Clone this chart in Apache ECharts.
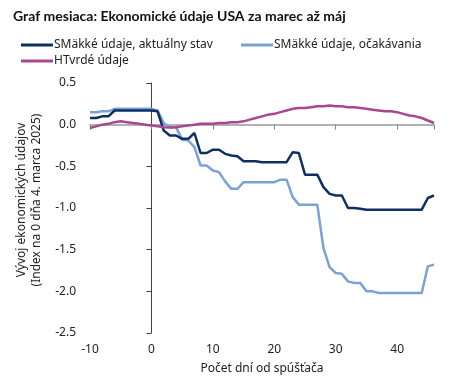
<!DOCTYPE html>
<html><head><meta charset="utf-8">
<script src="https://cdn.jsdelivr.net/npm/echarts@6/dist/echarts.min.js"></script>
<style>html,body{margin:0;padding:0;background:#fff}#c{width:463px;height:387px}</style>
</head><body><div id="c"></div>
<script>
const days = [];
for (let d = -10; d <= 46; d++) days.push(d);

const softActual = [0.08,0.08,0.10,0.10,0.17,0.17,0.17,0.17,0.17,0.17,0.17,
  0.16,-0.07,-0.13,-0.13,-0.17,-0.17,-0.10,-0.34,-0.34,-0.30,
  -0.30,-0.35,-0.37,-0.38,-0.44,-0.44,-0.44,-0.45,-0.45,-0.45,
  -0.45,-0.45,-0.33,-0.34,-0.60,-0.60,-0.60,-0.75,-0.83,-0.85,
  -0.85,-1.00,-1.00,-1.01,-1.02,-1.02,-1.02,-1.02,-1.02,-1.02,
  -1.02,-1.02,-1.02,-1.02,-0.88,-0.85];
const softExpect = [0.15,0.15,0.16,0.16,0.19,0.19,0.19,0.19,0.19,0.19,0.19,
  0.17,0.02,-0.03,-0.03,-0.18,-0.19,-0.27,-0.49,-0.49,-0.55,
  -0.57,-0.68,-0.77,-0.77,-0.69,-0.69,-0.69,-0.69,-0.69,-0.69,
  -0.66,-0.66,-0.87,-0.96,-0.96,-0.96,-0.96,-1.48,-1.71,-1.78,
  -1.79,-1.88,-1.90,-1.90,-2.00,-2.00,-2.02,-2.02,-2.02,-2.02,
  -2.02,-2.02,-2.02,-2.02,-1.70,-1.68];
const hard = [-0.04,-0.02,0.00,0.01,0.03,0.04,0.03,0.02,0.01,0.00,-0.01,
  -0.02,-0.03,-0.035,-0.03,-0.02,-0.01,0.00,0.01,0.01,0.01,
  0.02,0.02,0.03,0.03,0.04,0.06,0.08,0.10,0.12,0.13,
  0.15,0.17,0.19,0.20,0.20,0.21,0.22,0.22,0.23,0.22,
  0.22,0.21,0.21,0.20,0.19,0.18,0.17,0.16,0.16,0.15,
  0.13,0.11,0.10,0.08,0.05,0.02];

const seriesNames = ['SMäkké údaje, aktuálny stav','SMäkké údaje, očakávania','HTvrdé údaje'];
const colors = ['#0e2f63','#7ba2d5','#a8478f'];
const yTicks = {min:-2.5, max:0.5, interval:0.5};
const xTicks = {min:-10, max:46, interval:10};

const pair = arr => days.map((d,i)=>[d,arr[i]]);
const font = '"Noto Sans", "Open Sans", sans-serif';
const chart = echarts.init(document.getElementById('c'), null, {renderer:'canvas'});
const legendBase = {icon:'rect', itemWidth:32, itemHeight:3, itemGap:10,
  textStyle:{fontFamily:font, fontSize:12, color:'#222', padding:[0,0,0,-4]}};
chart.setOption({
  animation:false,
  title:{text:'Graf mesiaca: Ekonomické údaje USA za marec až máj', left:8, top:4,
    textStyle:{fontFamily:'Lato, "Noto Sans", sans-serif', fontSize:14, fontWeight:'bold', color:'#111'}},
  legend:[
    Object.assign({data:[seriesNames[0]], left:16, top:34}, legendBase),
    Object.assign({data:[seriesNames[1]], left:236, top:34}, legendBase),
    Object.assign({data:[seriesNames[2]], left:16, top:50}, legendBase)
  ],
  grid:{left:90, right:29, top:83, bottom:54, containLabel:false, outerBoundsMode:'none'},
  xAxis:[
    {type:'value', min:xTicks.min, max:xTicks.max, interval:xTicks.interval, position:'bottom',
     axisLine:{show:false, onZero:false}, axisTick:{show:false}, splitLine:{show:false},
     axisLabel:{margin:11, fontFamily:font, fontSize:12, color:'#222', showMaxLabel:false},
     name:'Počet dní od spúšťača', nameLocation:'middle', nameGap:30,
     nameTextStyle:{fontFamily:font, fontSize:12, color:'#222'}},
    {type:'value', min:xTicks.min, max:xTicks.max, interval:xTicks.interval, position:'bottom',
     axisLine:{show:true, onZero:true, lineStyle:{color:'#999', width:1.5}},
     axisTick:{show:true, length:5, lineStyle:{color:'#888'}}, axisLabel:{show:false}, splitLine:{show:false}}
  ],
  yAxis:{type:'value', min:yTicks.min, max:yTicks.max, interval:yTicks.interval,
    axisLine:{show:true, lineStyle:{color:'#444'}}, axisTick:{show:true, length:5, lineStyle:{color:'#444'}},
    splitLine:{show:false},
    axisLabel:{margin:14, fontFamily:font, fontSize:12, color:'#222', formatter:v=>v.toFixed(1)},
    name:'Vývoj ekonomických údajov\n(Index na 0 dňa 4. marca 2025)', nameLocation:'middle', nameGap:44,
    nameTextStyle:{fontFamily:font, fontSize:12, color:'#222', lineHeight:15, padding:[0,0,0,16]}},
  series:[
    {name:seriesNames[0], type:'line', data:pair(softActual), showSymbol:false, symbol:'none', z:3,
      lineStyle:{color:colors[0], width:2.5}, itemStyle:{color:colors[0]}},
    {name:seriesNames[1], type:'line', data:pair(softExpect), showSymbol:false, symbol:'none', z:2,
      lineStyle:{color:colors[1], width:2.5}, itemStyle:{color:colors[1]}},
    {name:seriesNames[2], type:'line', data:pair(hard), showSymbol:false, symbol:'none', z:4,
      lineStyle:{color:colors[2], width:2.5}, itemStyle:{color:colors[2]}}
  ]
});
</script></body></html>
